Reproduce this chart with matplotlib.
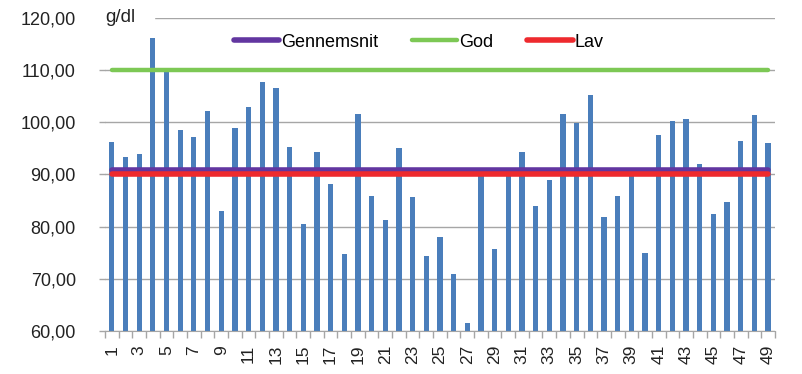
import numpy as np
import matplotlib.pyplot as plt

# --- data ---
kategorier = list(range(1, 50))
vaerdier = [96.3, 93.3, 94.0, 116.1, 109.7, 98.6, 97.1, 102.2, 83.0, 99.0,
            103.0, 107.8, 106.6, 95.2, 80.5, 94.4, 88.2, 74.8, 101.6, 85.8,
            81.3, 95.0, 85.6, 74.4, 78.0, 70.9, 61.6, 90.0, 75.7, 90.0,
            94.4, 83.9, 89.0, 101.5, 99.9, 105.2, 81.8, 85.9, 89.9, 75.0,
            97.5, 100.2, 100.6, 92.1, 82.4, 84.7, 96.5, 101.4, 96.1]
gennemsnit = [90.9] * 49
god = [110.0] * 49
lav = [90.1] * 49
y_ticks = [60, 70, 80, 90, 100, 110, 120]
y_labels = ["60,00", "70,00", "80,00", "90,00", "100,00", "110,00", "120,00"]

plt.rcParams['font.family'] = ['Liberation Sans', 'DejaVu Sans']

fig = plt.figure(figsize=(8.03, 3.74), dpi=100)
ax = fig.add_axes([0.1308, 0.115, 0.8342, 0.837])

x = np.arange(len(kategorier))
ax.bar(x, [v - 60 for v in vaerdier], bottom=60, width=0.38, color='#4a7ebb', zorder=2)

ax.plot(x, god, color='#7dc855', lw=3.2, solid_capstyle='round', zorder=3, label='God')
ax.plot(x, gennemsnit, color='#6236a0', lw=4, solid_capstyle='round', zorder=3, label='Gennemsnit')
ax.plot(x, lav, color='#ee2a2e', lw=4, solid_capstyle='round', zorder=4, label='Lav')

ax.set_xlim(-0.5, len(kategorier) - 0.5)
ax.set_ylim(60, 120)
ax.set_yticks(y_ticks)
ax.set_yticklabels(y_labels, fontsize=13, color='#222222')
ax.yaxis.grid(True, color='#a6a6a6', lw=1, zorder=0)
ax.set_axisbelow(True)

# x ticks between categories, labels at every other category
ax.set_xticks(np.arange(-0.5, len(kategorier)), minor=False)
ax.set_xticklabels([])
ax.set_xticks(x[::2], minor=True)
ax.set_xticklabels([str(k) for k in kategorier[::2]], minor=True, rotation=90, fontsize=12.5, color='#222222')
ax.tick_params(axis='x', which='major', length=5, color='#a6a6a6', width=1)
ax.tick_params(axis='x', which='minor', length=0, pad=10)
ax.tick_params(axis='y', length=4, color='#a6a6a6', width=1, pad=17)

for s in ['top', 'right', 'left']:
    ax.spines[s].set_visible(False)
ax.spines['bottom'].set_color('#a6a6a6')

ax.text(-0.5, 120, "g/dl", fontsize=13.5, color='#222222', va='center', ha='left', zorder=5,
        bbox=dict(facecolor='white', edgecolor='none', pad=4))
# white patch hiding start of top gridline
ax.axhspan(119.5, 120.5, xmin=0, xmax=0.073, color='white', zorder=1)

h, l = ax.get_legend_handles_labels()
order = [1, 0, 2]
ax.legend([h[i] for i in order], [l[i] for i in order], loc='center', bbox_to_anchor=(0.468, 0.923),
          ncol=3, frameon=False, fontsize=13, handlelength=2.5, handletextpad=0.1, columnspacing=1.9)

fig.savefig('out.png', dpi=100)
